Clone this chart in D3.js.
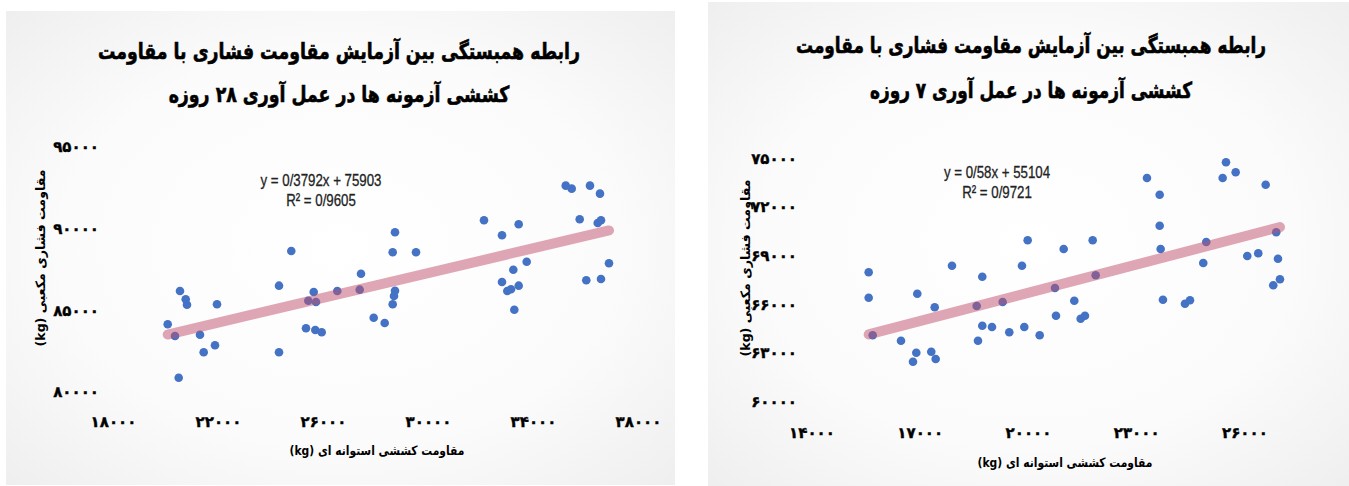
<!DOCTYPE html>
<html>
<head>
<meta charset="utf-8">
<script src="https://cdn.jsdelivr.net/npm/d3@7"></script>
<style>
  body { margin: 0; background: #fff; }
  svg { display: block; }
</style>
</head>
<body>
<svg id="chart" width="1349" height="486"></svg>
<script>
// 28-day chart data (tensile kg, compressive kg)
var x28 = [20084, 20362, 20552, 20770, 20819, 20503, 21314, 21455, 21886, 21962,
  24324, 24324, 24792, 25352, 25440, 25646, 25733, 25707, 25950, 26545,
  27448, 27398, 27931, 28350, 28743, 28655, 28743, 28705, 28655, 29543,
  32133, 32819, 33455, 33760, 33250, 32819, 33021, 33162, 33455, 33288,
  35246, 35474, 36171, 36552, 35779, 36465, 36590, 36895, 36030, 36590];
var y28 = [84146, 83429, 86185, 85677, 85346, 80876, 83509, 82431, 82860, 85370,
  86510, 82431, 88634, 83901, 85591, 86124, 85511, 83797, 83656, 86185,
  87244, 86265, 84550, 84225, 89780, 88555, 86203, 85879, 85370, 88555,
  90514, 89596, 90269, 87979, 87489, 86736, 86185, 86289, 86510, 85040,
  92633, 92450, 92633, 92143, 90576, 90349, 90514, 87881, 86840, 86920];

// 7-day chart data
var x7 = [15585, 15585, 15696, 16481, 16905, 16813, 16932, 17320, 17442, 17415,
  17894, 18579, 18734, 18734, 18615, 19003, 19299, 19482, 19834, 19898,
  19992, 20325, 20749, 20777, 20990, 21284, 21461, 21580, 21794, 21877,
  23299, 23651, 23651, 23678, 23742, 24352, 24491, 24859, 24942, 25397,
  25489, 25757, 26079, 26384, 26589, 26882, 26930, 26985, 26799];
var y7 = [67971, 66407, 64090, 63758, 63019, 62464, 66653, 63080, 62630, 65815,
  68378, 65895, 67700, 64682, 63758, 64602, 66142, 64275, 68378, 64602,
  69943, 64090, 67004, 65298, 69407, 66222, 65113, 65298, 69943, 67787,
  73781, 72752, 70842, 69407, 66284, 66037, 66247, 68544, 69838, 73781,
  74748, 74132, 68976, 69142, 73368, 70436, 68809, 67540, 67171];

var xTicks28 = [18000, 22000, 26000, 30000, 34000, 38000];
var yTicks28 = [80000, 85000, 90000, 95000];
var xTicks7 = [14000, 17000, 20000, 23000, 26000];
var yTicks7 = [60000, 63000, 66000, 69000, 72000, 75000];

var fit28 = { slope: 0.3792, intercept: 75903, eq: "y = 0/3792x + 75903", r2: "R² = 0/9605" };
var fit7 = { slope: 0.58, intercept: 55104, eq: "y = 0/58x + 55104", r2: "R² = 0/9721" };

var titles28 = ["رابطه همبستگی بین آزمایش مقاومت فشاری با مقاومت", "کششی آزمونه ها در عمل آوری ۲۸ روزه"];
var titles7 = ["رابطه همبستگی بین آزمایش مقاومت فشاری با مقاومت", "کششی آزمونه ها در عمل آوری  ۷ روزه"];
var yTitle = "مقاومت فشاری مکعبی (kg)";
var xTitle = "مقاومت کششی استوانه ای  (kg)";

var faDigits = "۰۱۲۳۴۵۶۷۸۹";
function fa(n) {
  return String(n).replace(/[0-9]/g, function(d) { return faDigits[+d]; });
}

var svg = d3.select("#chart");
var defs = svg.append("defs");
var grad = defs.append("radialGradient").attr("id", "bg")
  .attr("cx", "50%").attr("cy", "50%").attr("r", "70%");
grad.append("stop").attr("offset", "0%").attr("stop-color", "#ffffff");
grad.append("stop").attr("offset", "60%").attr("stop-color", "#fbfbfb");
grad.append("stop").attr("offset", "100%").attr("stop-color", "#efefef");

// squeeze a text node horizontally by a factor, keeping its anchor
function squeeze(sel, k) {
  sel.each(function() {
    var w = this.getComputedTextLength();
    d3.select(this).attr("textLength", w * k).attr("lengthAdjust", "spacingAndGlyphs");
  });
}

function drawChart(o) {
  var g = svg.append("g");

  g.append("rect")
    .attr("x", o.box[0]).attr("y", o.box[1])
    .attr("width", o.box[2]).attr("height", o.box[3])
    .attr("fill", "url(#bg)");

  var x = d3.scaleLinear().domain(o.xDomain).range(o.xRange);
  var y = d3.scaleLinear().domain(o.yDomain).range(o.yRange);

  // titles
  var t = g.selectAll(".title")
    .data(o.titles)
    .join("text")
    .attr("class", "title")
    .attr("x", o.titleX)
    .attr("y", function(d, i) { return o.titleY + i * o.titleGap; })
    .attr("text-anchor", "middle")
    .attr("direction", "rtl")
    .style("font-family", "'DejaVu Sans', sans-serif")
    .style("font-weight", "bold")
    .style("font-size", "22px")
    .attr("fill", "#000")
    .attr("stroke", "#000")
    .attr("stroke-width", 0.6)
    .text(function(d) { return d; });
  var k = o.titleWidth / t.node().getComputedTextLength();
  squeeze(t, k);

  // axes (labels only, no lines)
  var xAxis = d3.axisBottom(x).tickValues(o.xTicks).tickSize(0).tickFormat(fa);
  var yAxis = d3.axisLeft(y).tickValues(o.yTicks).tickSize(0).tickFormat(fa);

  var gx = g.append("g")
    .attr("transform", "translate(0," + o.xAxisY + ")")
    .call(xAxis);
  var gy = g.append("g")
    .attr("transform", "translate(" + o.yAxisX + ",0)")
    .call(yAxis);
  [gx, gy].forEach(function(a) {
    a.select(".domain").remove();
    a.selectAll("text")
      .style("font-family", "'DejaVu Sans', sans-serif")
      .style("font-weight", "bold")
      .style("font-size", "15px")
      .attr("fill", "#000")
      .attr("stroke", "#000")
      .attr("stroke-width", 0.4);
  });
  gy.selectAll("text").attr("x", 0);

  // points
  var pts = o.xs.map(function(v, i) { return [v, o.ys[i]]; });
  g.append("g").selectAll("circle")
    .data(pts)
    .join("circle")
    .attr("cx", function(d) { return x(d[0]); })
    .attr("cy", function(d) { return y(d[1]); })
    .attr("r", 4.3)
    .attr("fill", "#4472c4");

  // trendline
  var x0 = d3.min(o.xs), x1 = d3.max(o.xs);
  g.append("line")
    .attr("x1", x(x0)).attr("y1", y(o.fit.slope * x0 + o.fit.intercept))
    .attr("x2", x(x1)).attr("y2", y(o.fit.slope * x1 + o.fit.intercept))
    .attr("stroke", "#c0506e")
    .attr("stroke-opacity", 0.5)
    .attr("stroke-width", 10)
    .attr("stroke-linecap", "round");

  // equation
  var eq = g.selectAll(".eq")
    .data([o.fit.eq, o.fit.r2])
    .join("text")
    .attr("class", "eq")
    .attr("x", o.eqX)
    .attr("y", function(d, i) { return o.eqY + i * 20; })
    .attr("text-anchor", "middle")
    .style("font-family", "'Liberation Sans', sans-serif")
    .style("font-size", "17px")
    .attr("fill", "#222")
    .attr("stroke", "#222")
    .attr("stroke-width", 0.3)
    .text(function(d) { return d; });
  squeeze(eq, 0.78);

  // axis titles
  var yt = g.append("text")
    .attr("transform", "translate(" + o.yTitlePos[0] + "," + o.yTitlePos[1] + ") rotate(-90)")
    .attr("text-anchor", "middle")
    .attr("direction", "rtl")
    .attr("dy", "0.35em")
    .style("font-family", "'DejaVu Sans', sans-serif")
    .style("font-weight", "bold")
    .style("font-size", "13px")
    .text(yTitle);
  squeeze(yt, 177 / yt.node().getComputedTextLength());

  var xt = g.append("text")
    .attr("x", o.xTitlePos[0]).attr("y", o.xTitlePos[1])
    .attr("text-anchor", "middle")
    .attr("direction", "rtl")
    .attr("dy", "0.35em")
    .style("font-family", "'DejaVu Sans', sans-serif")
    .style("font-weight", "bold")
    .style("font-size", "13px")
    .text(xTitle);
  squeeze(xt, 175 / xt.node().getComputedTextLength());
}

drawChart({
  box: [6, 11, 669, 474],
  xs: x28, ys: y28, fit: fit28, titles: titles28,
  xDomain: [18000, 38000], xRange: [113, 638],
  yDomain: [80000, 95000], yRange: [392, 147],
  xTicks: xTicks28, yTicks: yTicks28,
  xAxisY: 413, yAxisX: 99,
  titleX: 339, titleY: 59, titleGap: 43, titleWidth: 482,
  eqX: 321, eqY: 186,
  yTitlePos: [40, 258], xTitlePos: [377, 450]
});

drawChart({
  box: [708, 2, 641, 484],
  xs: x7, ys: y7, fit: fit7, titles: titles7,
  xDomain: [14000, 27000], xRange: [811.5, 1280.5],
  yDomain: [60000, 75000], yRange: [401.7, 158.2],
  xTicks: xTicks7, yTicks: yTicks7,
  xAxisY: 424, yAxisX: 797,
  titleX: 1031, titleY: 53, titleGap: 45, titleWidth: 470,
  eqX: 997, eqY: 178,
  yTitlePos: [745, 268], xTitlePos: [1065, 462]
});
</script>
</body>
</html>
